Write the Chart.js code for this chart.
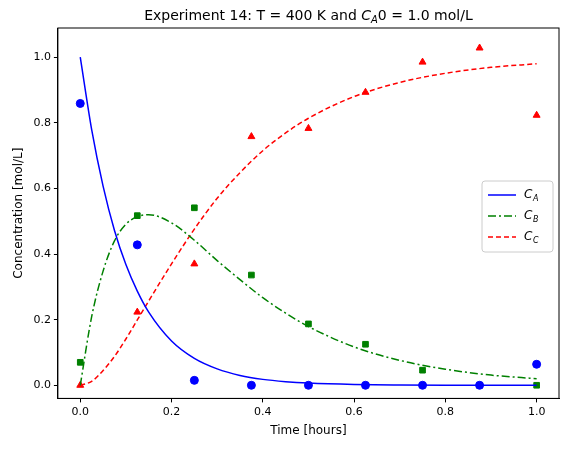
<!DOCTYPE html>
<html><head><script src="https://cdn.jsdelivr.net/npm/chart.js@4"></script>
<style>body{margin:0;background:#fff}#w{width:567px;height:454px}</style></head>
<body><div id="w"><canvas id="c"></canvas></div>
<script>
const tObs=[0,0.125,0.25,0.375,0.5,0.625,0.75,0.875,1.0];
const caObs=[0.859,0.428,0.015,0.0,0.0,0.0,0.0,0.0,0.064];
const cbObs=[0.070,0.517,0.541,0.336,0.187,0.125,0.046,0.0,0.0];
const ccObs=[0.0,0.223,0.370,0.758,0.783,0.893,0.985,1.028,0.823];
const tFit=[0,0.025,0.05,0.075,0.1,0.125,0.15,0.2,0.25,0.3,0.35,0.4,0.45,0.5,0.6,0.7,0.8,0.9,1.0];
const caFit=[1,0.779,0.607,0.472,0.368,0.287,0.223,0.135,0.082,0.050,0.030,0.018,0.011,0.0067,0.0025,0.0009,0.0003,0.0001,0];
const cbFit=[0,0.209,0.348,0.440,0.491,0.514,0.520,0.495,0.442,0.380,0.322,0.267,0.220,0.179,0.117,0.076,0.049,0.031,0.020];
const ccFit=[0,0.012,0.045,0.088,0.141,0.199,0.257,0.370,0.476,0.570,0.648,0.715,0.769,0.814,0.880,0.923,0.951,0.969,0.980];
const xy=(xs,ys)=>xs.map((x,i)=>({x,y:ys[i]}));
const F='DejaVu Sans';
const line=(d,c,dash)=>({type:'line',data:d,borderColor:c,borderWidth:1.5,borderDash:dash,pointRadius:0,tension:0.4,cubicInterpolationMode:'monotone'});
const pts=(d,c,s)=>({type:'scatter',data:d,backgroundColor:c,borderColor:c,pointStyle:s,pointRadius:s==='rect'?4:4});
const frame={id:'frame',afterDraw(ch){const a=ch.chartArea,x=ch.ctx;x.save();x.strokeStyle='#000';x.lineWidth=1;x.strokeRect(a.left,a.top,a.right-a.left,a.bottom-a.top);
// title with subscript
x.fillStyle='#000';x.textBaseline='alphabetic';
const parts=[['Experiment 14: T = 400 K and ','14px '+F,0],['C','italic 14px '+F,0],['A','italic 10px '+F,3],['0 = 1.0 mol/L','14px '+F,0]];
let tw=0;parts.forEach(p=>{x.font=p[1];tw+=x.measureText(p[0]).width;});
let cx=(a.left+a.right)/2-tw/2;parts.forEach(p=>{x.font=p[1];x.fillText(p[0],cx,20+p[2]);cx+=x.measureText(p[0]).width;});
// legend
const L=482,T=181,W=71,H=71;x.fillStyle='rgba(255,255,255,0.8)';x.strokeStyle='#ccc';x.beginPath();x.roundRect(L,T,W,H,3);x.fill();x.stroke();
const items=[['#0000ff',[],'A'],['#008000',[8,3,2,3],'B'],['#ff0000',[5,3],'C']];
items.forEach((it,i)=>{const y=T+14+i*21;x.strokeStyle=it[0];x.lineWidth=1.5;x.setLineDash(it[1]);x.beginPath();x.moveTo(L+6,y);x.lineTo(L+34,y);x.stroke();x.setLineDash([]);
x.fillStyle='#000';x.font='italic 12px '+F;x.textBaseline='middle';x.fillText('C',L+42,y);x.font='italic 8px '+F;x.fillText(it[2],L+51,y+4);});
x.restore();}};
new Chart(document.getElementById('c'),{data:{datasets:[
line(xy(tFit,caFit),'#0000ff',[]),line(xy(tFit,cbFit),'#008000',[8,3,2,3]),line(xy(tFit,ccFit),'#ff0000',[5,3]),
pts(xy(tObs,caObs),'#0000ff','circle'),pts(xy(tObs,cbObs),'#008000','rect'),pts(xy(tObs,ccObs),'#ff0000','triangle')]},
options:{animation:false,responsive:true,maintainAspectRatio:false,devicePixelRatio:1,
layout:{padding:{left:8,right:8,top:28,bottom:12}},
plugins:{legend:{display:false},tooltip:{enabled:false},title:{display:false}},
scales:{x:{type:'linear',min:-0.049,max:1.049,afterBuildTicks:s=>{s.ticks=[0,0.2,0.4,0.6,0.8,1].map(v=>({value:v}))},
ticks:{color:'#000',font:{family:F,size:11},callback:v=>v.toFixed(1),maxRotation:0},grid:{drawOnChartArea:false,tickLength:4,color:'#000'},border:{color:'#000'},
title:{display:true,text:'Time [hours]',color:'#000',font:{family:F,size:12},padding:{top:2}}},
y:{min:-0.04,max:1.089,afterBuildTicks:s=>{s.ticks=[0,0.2,0.4,0.6,0.8,1].map(v=>({value:v}))},
ticks:{color:'#000',font:{family:F,size:11},callback:v=>v.toFixed(1)},grid:{drawOnChartArea:false,tickLength:4,color:'#000'},border:{color:'#000'},
title:{display:true,text:'Concentration [mol/L]',color:'#000',font:{family:F,size:12}}}}},
plugins:[frame]});
</script></body></html>
